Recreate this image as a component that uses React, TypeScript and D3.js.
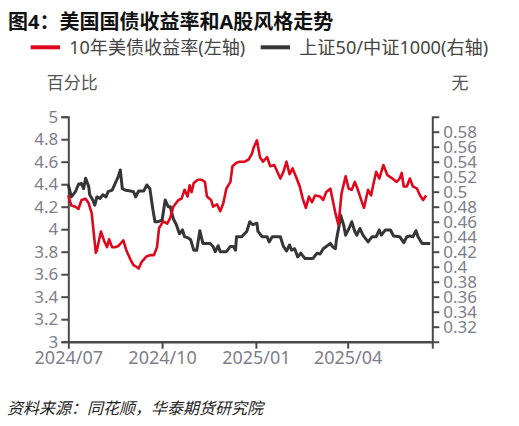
import * as d3 from 'd3'
import { useEffect, useRef } from 'react'

// 10年美债收益率 (%)，左轴
const usYield: [string, number][] = [
  ['2024-07-01', 4.30], ['2024-07-04', 4.21], ['2024-07-08', 4.20], ['2024-07-11', 4.18], ['2024-07-14', 4.26],
  ['2024-07-18', 4.27], ['2024-07-21', 4.23], ['2024-07-24', 4.14], ['2024-07-26', 3.96], ['2024-07-28', 3.79],
  ['2024-07-29', 3.81], ['2024-08-02', 3.98], ['2024-08-05', 3.90], ['2024-08-08', 3.84], ['2024-08-10', 3.91],
  ['2024-08-13', 3.84], ['2024-08-16', 3.84], ['2024-08-19', 3.85], ['2024-08-24', 3.90], ['2024-08-27', 3.81],
  ['2024-08-31', 3.73], ['2024-09-03', 3.68], ['2024-09-05', 3.67], ['2024-09-08', 3.65], ['2024-09-11', 3.71],
  ['2024-09-16', 3.76], ['2024-09-20', 3.77], ['2024-09-23', 3.77], ['2024-09-26', 3.84], ['2024-09-28', 4.01],
  ['2024-10-02', 4.07], ['2024-10-06', 4.05], ['2024-10-09', 4.10], ['2024-10-12', 4.20], ['2024-10-17', 4.26],
  ['2024-10-20', 4.27], ['2024-10-23', 4.35], ['2024-10-26', 4.29], ['2024-10-28', 4.39], ['2024-10-30', 4.33],
  ['2024-11-01', 4.41], ['2024-11-05', 4.44], ['2024-11-09', 4.44], ['2024-11-12', 4.42], ['2024-11-14', 4.29],
  ['2024-11-18', 4.26], ['2024-11-20', 4.20], ['2024-11-24', 4.22], ['2024-11-27', 4.16], ['2024-11-30', 4.23],
  ['2024-12-03', 4.36], ['2024-12-07', 4.42], ['2024-12-09', 4.56], ['2024-12-13', 4.59], ['2024-12-16', 4.60],
  ['2024-12-21', 4.60], ['2024-12-25', 4.62], ['2024-12-28', 4.67], ['2024-12-30', 4.73], ['2025-01-02', 4.79],
  ['2025-01-05', 4.64], ['2025-01-08', 4.60], ['2025-01-12', 4.64], ['2025-01-15', 4.56], ['2025-01-19', 4.57],
  ['2025-01-21', 4.53], ['2025-01-25', 4.45], ['2025-01-28', 4.51], ['2025-01-31', 4.60], ['2025-02-03', 4.49],
  ['2025-02-06', 4.54], ['2025-02-10', 4.45], ['2025-02-13', 4.38], ['2025-02-16', 4.27], ['2025-02-19', 4.19],
  ['2025-02-22', 4.29], ['2025-02-25', 4.24], ['2025-02-28', 4.30], ['2025-03-05', 4.29], ['2025-03-08', 4.26],
  ['2025-03-11', 4.33], ['2025-03-15', 4.36], ['2025-03-18', 4.23], ['2025-03-20', 4.14], ['2025-03-23', 4.04],
  ['2025-03-26', 4.32], ['2025-03-30', 4.47], ['2025-04-02', 4.36], ['2025-04-05', 4.35], ['2025-04-08', 4.42],
  ['2025-04-11', 4.35], ['2025-04-15', 4.24], ['2025-04-17', 4.19], ['2025-04-21', 4.35], ['2025-04-24', 4.30],
  ['2025-04-26', 4.39], ['2025-04-29', 4.51], ['2025-05-02', 4.45], ['2025-05-06', 4.57], ['2025-05-10', 4.48],
  ['2025-05-15', 4.45], ['2025-05-19', 4.42], ['2025-05-22', 4.45], ['2025-05-24', 4.50], ['2025-05-26', 4.38],
  ['2025-05-29', 4.38], ['2025-06-01', 4.45], ['2025-06-04', 4.38], ['2025-06-08', 4.36], ['2025-06-11', 4.30],
  ['2025-06-14', 4.26], ['2025-06-17', 4.30],
]

// 上证50/中证1000，右轴
const styleRatio: [string, number][] = [
  ['2024-07-01', 0.509], ['2024-07-04', 0.493], ['2024-07-08', 0.500], ['2024-07-11', 0.510], ['2024-07-14', 0.511],
  ['2024-07-16', 0.504], ['2024-07-18', 0.518], ['2024-07-21', 0.507], ['2024-07-22', 0.496], ['2024-07-25', 0.489],
  ['2024-07-27', 0.482], ['2024-07-29', 0.493], ['2024-08-01', 0.491], ['2024-08-04', 0.496], ['2024-08-07', 0.493],
  ['2024-08-09', 0.500], ['2024-08-13', 0.502], ['2024-08-16', 0.511], ['2024-08-19', 0.520], ['2024-08-21', 0.529],
  ['2024-08-23', 0.504], ['2024-08-26', 0.502], ['2024-08-31', 0.501], ['2024-09-03', 0.500], ['2024-09-05', 0.493],
  ['2024-09-08', 0.501], ['2024-09-13', 0.501], ['2024-09-16', 0.509], ['2024-09-19', 0.504], ['2024-09-22', 0.476],
  ['2024-09-24', 0.460], ['2024-09-27', 0.460], ['2024-10-01', 0.462], ['2024-10-04', 0.489], ['2024-10-07', 0.480],
  ['2024-10-09', 0.480], ['2024-10-12', 0.464], ['2024-10-15', 0.456], ['2024-10-18', 0.444], ['2024-10-21', 0.449],
  ['2024-10-23', 0.440], ['2024-10-27', 0.438], ['2024-10-29', 0.436], ['2024-11-01', 0.422], ['2024-11-04', 0.422],
  ['2024-11-07', 0.448], ['2024-11-10', 0.431], ['2024-11-17', 0.431], ['2024-11-20', 0.427], ['2024-11-22', 0.420],
  ['2024-11-25', 0.428], ['2024-11-27', 0.420], ['2024-12-03', 0.420], ['2024-12-07', 0.427], ['2024-12-10', 0.427],
  ['2024-12-12', 0.422], ['2024-12-13', 0.440], ['2024-12-18', 0.440], ['2024-12-23', 0.447], ['2024-12-26', 0.460],
  ['2024-12-29', 0.456], ['2024-12-31', 0.457], ['2025-01-02', 0.458], ['2025-01-03', 0.447], ['2025-01-07', 0.440],
  ['2025-01-12', 0.440], ['2025-01-14', 0.433], ['2025-01-17', 0.440], ['2025-01-25', 0.440], ['2025-01-28', 0.427],
  ['2025-01-31', 0.421], ['2025-02-03', 0.429], ['2025-02-05', 0.422], ['2025-02-08', 0.424], ['2025-02-11', 0.413],
  ['2025-02-14', 0.418], ['2025-02-18', 0.411], ['2025-02-21', 0.411], ['2025-02-26', 0.411], ['2025-03-02', 0.418],
  ['2025-03-05', 0.417], ['2025-03-08', 0.424], ['2025-03-11', 0.427], ['2025-03-15', 0.431], ['2025-03-17', 0.427],
  ['2025-03-20', 0.424], ['2025-03-21', 0.436], ['2025-03-24', 0.458], ['2025-03-25', 0.469], ['2025-03-28', 0.456],
  ['2025-03-30', 0.442], ['2025-04-03', 0.453], ['2025-04-05', 0.460], ['2025-04-08', 0.447], ['2025-04-10', 0.442],
  ['2025-04-13', 0.451], ['2025-04-16', 0.442], ['2025-04-21', 0.433], ['2025-04-25', 0.440], ['2025-04-29', 0.440],
  ['2025-05-02', 0.449], ['2025-05-04', 0.442], ['2025-05-08', 0.449], ['2025-05-13', 0.449], ['2025-05-16', 0.441],
  ['2025-05-22', 0.440], ['2025-05-26', 0.432], ['2025-05-29', 0.440], ['2025-06-01', 0.441], ['2025-06-04', 0.440],
  ['2025-06-07', 0.448], ['2025-06-09', 0.440], ['2025-06-13', 0.431], ['2025-06-21', 0.431],
]

const leftTicks = [3, 3.2, 3.4, 3.6, 3.8, 4, 4.2, 4.4, 4.6, 4.8, 5]
const rightTicks = [0.32, 0.34, 0.36, 0.38, 0.4, 0.42, 0.44, 0.46, 0.48, 0.5, 0.52, 0.54, 0.56, 0.58]
const xTicks = ['2024-07-01', '2024-10-01', '2025-01-01', '2025-04-01']
const xEnd = '2025-06-23'

const WIDTH = 519
const HEIGHT = 426
const MARGIN = { LEFT: 68.3, RIGHT: 432.3, TOP: 116.7, BOTTOM: 341.7 }
const FONT = '"Noto Sans", "Noto Sans CJK SC", sans-serif'
const RED = '#e0061b'
const DARK = '#363636'
const AXIS = '#4a4a4a'
const TICK_TEXT = '#7e7e8a'

const parse = d3.timeParse('%Y-%m-%d')

export default function App() {
  const ref = useRef<SVGSVGElement>(null)

  useEffect(() => {
    document.body.style.margin = '0'
    const svg = d3.select(ref.current)
    svg.selectAll('*').remove()

    const x = d3.scaleTime()
      .domain([parse(xTicks[0])!, parse(xEnd)!])
      .range([MARGIN.LEFT, MARGIN.RIGHT])
    const yLeft = d3.scaleLinear().domain([3, 5]).range([MARGIN.BOTTOM, MARGIN.TOP])
    const yRight = d3.scaleLinear().domain([0.3, 0.6]).range([MARGIN.BOTTOM, MARGIN.TOP])

    // title
    svg.append('text')
      .attr('x', 8).attr('y', 29)
      .style('font-family', FONT).style('font-size', '20px').style('font-weight', 'bold')
      .attr('fill', '#111')
      .text('图4：美国国债收益率和A股风格走势')

    // legend
    const legend = [
      { label: '10年美债收益率(左轴)', color: RED, x: 30.7, len: 176 },
      { label: '上证50/中证1000(右轴)', color: DARK, x: 260.7, len: 189 },
    ]
    legend.forEach((l) => {
      svg.append('line')
        .attr('x1', l.x).attr('x2', l.x + 29.3).attr('y1', 47.3).attr('y2', 47.3)
        .attr('stroke', l.color).attr('stroke-width', 4)
      svg.append('text')
        .attr('x', l.x + 38.5).attr('y', 53.5)
        .attr('textLength', l.len).attr('lengthAdjust', 'spacingAndGlyphs')
        .style('font-family', FONT).style('font-size', '18px')
        .attr('fill', '#444')
        .text(l.label)
    })

    // unit labels
    svg.append('text').attr('x', 46.7).attr('y', 88.5)
      .style('font-family', FONT).style('font-size', '17px').attr('fill', '#555')
      .text('百分比')
    svg.append('text').attr('x', 451.5).attr('y', 88.5)
      .style('font-family', FONT).style('font-size', '17px').attr('fill', '#555')
      .text('无')

    // left axis
    const gLeft = svg.append('g')
      .attr('transform', `translate(${MARGIN.LEFT},0)`)
      .call(d3.axisLeft(yLeft).tickValues(leftTicks).tickSize(7).tickPadding(3)
        .tickFormat((d) => d3.format('~g')(d as number)))
    gLeft.select('.domain').attr('stroke', AXIS).attr('stroke-width', 2)
    gLeft.selectAll('.tick line').attr('stroke', AXIS).attr('stroke-width', 2)
    gLeft.selectAll('.tick text').attr('fill', TICK_TEXT)
      .style('font-family', FONT).style('font-size', '17px')

    // right axis
    const gRight = svg.append('g')
      .attr('transform', `translate(${MARGIN.RIGHT},0)`)
      .call(d3.axisRight(yRight).tickValues(rightTicks).tickSize(7).tickPadding(4)
        .tickFormat((d) => d3.format('~g')(d as number)))
    gRight.select('.domain').attr('stroke', AXIS).attr('stroke-width', 2)
    gRight.selectAll('.tick line').attr('stroke', AXIS).attr('stroke-width', 2)
    gRight.selectAll('.tick text').attr('fill', TICK_TEXT)
      .style('font-family', FONT).style('font-size', '17px')

    // bottom axis
    const tickDates = [...xTicks, xEnd].map((d) => parse(d)!)
    const gBottom = svg.append('g')
      .attr('transform', `translate(0,${MARGIN.BOTTOM})`)
      .call(d3.axisBottom(x).tickValues(tickDates).tickSize(7).tickSizeOuter(0).tickPadding(3)
        .tickFormat((d, i) => (i < xTicks.length ? d3.timeFormat('%Y/%m')(d as Date) : '')))
    gBottom.select('.domain').attr('stroke', AXIS).attr('stroke-width', 2.5)
    gBottom.selectAll('.tick line').attr('stroke', AXIS).attr('stroke-width', 2)
    gBottom.selectAll('.tick text').attr('fill', TICK_TEXT)
      .style('font-family', FONT).style('font-size', '18px')

    // lines
    const lineLeft = d3.line<[string, number]>()
      .x((d) => x(parse(d[0])!))
      .y((d) => yLeft(d[1]))
    const lineRight = d3.line<[string, number]>()
      .x((d) => x(parse(d[0])!))
      .y((d) => yRight(d[1]))

    svg.append('path')
      .datum(styleRatio)
      .attr('d', lineRight)
      .attr('fill', 'none').attr('stroke', DARK).attr('stroke-width', 3)
      .attr('stroke-linejoin', 'round')

    svg.append('path')
      .datum(usYield)
      .attr('d', lineLeft)
      .attr('fill', 'none').attr('stroke', RED).attr('stroke-width', 2.6)
      .attr('stroke-linejoin', 'round')

    // source
    svg.append('text')
      .attr('x', 7).attr('y', 414)
      .style('font-family', FONT).style('font-size', '16px').style('font-style', 'italic')
      .attr('fill', '#222')
      .text('资料来源：同花顺，华泰期货研究院')
  }, [])

  return <svg ref={ref} width={WIDTH} height={HEIGHT} style={{ display: 'block', background: '#fff' }} />
}
